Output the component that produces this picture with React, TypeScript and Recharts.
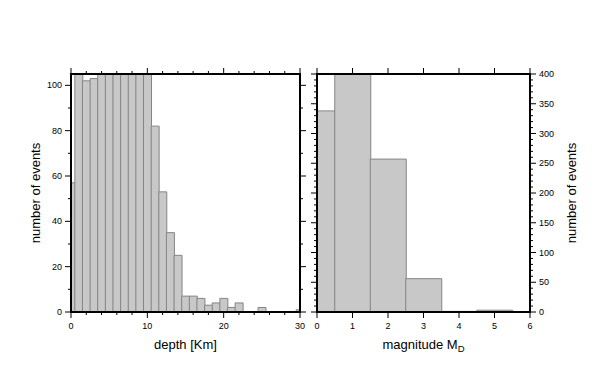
import { Bar, BarChart, XAxis, YAxis } from "recharts";

// depth histogram, 1 km bins centred on whole km
const depthBins = [
  0, 1, 2, 3, 4, 5, 6, 7, 8, 9, 10, 11, 12, 13, 14, 15, 16, 17, 18, 19, 20,
  21, 22, 23, 24, 25, 26, 27, 28, 29, 30,
];
const depthCounts = [
  57, 108, 102, 103, 112, 118, 122, 125, 120, 114, 106, 82, 53, 35, 25, 7, 7,
  6, 3, 4, 6, 2, 4, 0, 0, 2, 0, 0, 0, 0, 1,
];

// magnitude histogram, unit bins centred on whole magnitudes
const magnitudeBins = [0, 1, 2, 3, 4, 5, 6];
const magnitudeCounts = [338, 769, 257, 56, 1, 3, 0];

const depthTicks = [0, 2, 4, 6, 8, 10, 12, 14, 16, 18, 20, 22, 24, 26, 28, 30];
const depthCountTicks = [0, 10, 20, 30, 40, 50, 60, 70, 80, 90, 100];
const magnitudeTicks = [0, 1, 2, 3, 4, 5, 6];
const magnitudeCountTicks = [
  0, 10, 20, 30, 40, 50, 60, 70, 80, 90, 100, 110, 120, 130, 140, 150, 160,
  170, 180, 190, 200, 210, 220, 230, 240, 250, 260, 270, 280, 290, 300, 310,
  320, 330, 340, 350, 360, 370, 380, 390, 400,
];

const depthData = depthBins.map((bin, i) => ({ bin, count: depthCounts[i] }));
const magnitudeData = magnitudeBins.map((bin, i) => ({
  bin,
  count: magnitudeCounts[i],
}));

const FONT = "'Liberation Sans', Arial, Helvetica, sans-serif";
const frame = { stroke: "#000", strokeWidth: 2, strokeLinecap: "square" as const };

type Side = "left" | "right" | "top" | "bottom";

// draws tick marks (long for major, short for minor) and optional labels
function makeTick(side: Side, majorEvery: number, labels: boolean) {
  return function Tick(props: any) {
    const { x, y, payload } = props;
    const v = payload.value;
    const major = v % majorEvery === 0;
    const len = major ? 6 : 3;
    let line = null;
    let label = null;
    if (side === "left") {
      line = <line x1={x - len} x2={x} y1={y} y2={y} />;
      if (labels && major)
        label = (
          <text x={x - 9} y={y} dy="0.35em" textAnchor="end">
            {v}
          </text>
        );
    } else if (side === "right") {
      line = <line x1={x} x2={x + len} y1={y} y2={y} />;
      if (labels && major)
        label = (
          <text x={x + 9} y={y} dy="0.35em" textAnchor="start">
            {v}
          </text>
        );
    } else if (side === "top") {
      line = <line x1={x} x2={x} y1={y - len} y2={y} />;
    } else {
      line = <line x1={x} x2={x} y1={y} y2={y + len} />;
      if (labels && major)
        label = (
          <text x={x} y={y + 17} textAnchor="middle">
            {v}
          </text>
        );
    }
    return (
      <g stroke="#000" strokeWidth={1} fill="#000" fontSize={9} fontFamily={FONT}>
        {line}
        {label && <g stroke="none">{label}</g>}
      </g>
    );
  };
}

function SideTitle({ viewBox, title, shiftX }: any) {
  const cx = viewBox.x + shiftX;
  const cy = viewBox.y + viewBox.height / 2;
  return (
    <text
      x={cx}
      y={cy}
      transform={`rotate(-90 ${cx} ${cy})`}
      textAnchor="middle"
      dominantBaseline="central"
      fontSize={13}
      fontFamily={FONT}
      fill="#000"
    >
      {title}
    </text>
  );
}

function BottomTitle({ viewBox, title, sub }: any) {
  const cx = viewBox.x + viewBox.width / 2;
  return (
    <text
      x={cx}
      y={viewBox.y + 37}
      textAnchor="middle"
      fontSize={13}
      fontFamily={FONT}
      fill="#000"
    >
      {title}
      {sub && (
        <tspan dy={3} fontSize={9.5}>
          {sub}
        </tspan>
      )}
    </text>
  );
}

export default function App() {
  return (
    <div
      style={{
        position: "absolute",
        left: 0,
        top: 0,
        width: 602,
        height: 383,
        background: "#fff",
        overflow: "hidden",
      }}
    >
      <div style={{ position: "absolute", left: 0, top: 0 }}>
        <BarChart
          width={310}
          height={383}
          data={depthData}
          margin={{ top: 68, right: 0, bottom: 0, left: 25 }}
          barCategoryGap={0}
          barGap={0}
        >
          <XAxis
            xAxisId="b"
            dataKey="bin"
            type="number"
            domain={[0, 30]}
            ticks={depthTicks}
            allowDataOverflow
            height={71}
            tickSize={0}
            tickMargin={0}
            tickLine={false}
            axisLine={frame}
            tick={makeTick("bottom", 10, true)}
            interval={0}
            label={<BottomTitle title="depth [Km]" />}
          />
          <XAxis
            xAxisId="t"
            orientation="top"
            type="number"
            domain={[0, 30]}
            ticks={depthTicks}
            allowDataOverflow
            height={6}
            tickSize={0}
            tickMargin={0}
            tickLine={false}
            axisLine={frame}
            tick={makeTick("top", 10, false)}
            interval={0}
          />
          <YAxis
            yAxisId="l"
            type="number"
            domain={[0, 105]}
            ticks={depthCountTicks}
            allowDataOverflow
            width={46}
            tickSize={0}
            tickMargin={0}
            tickLine={false}
            axisLine={frame}
            tick={makeTick("left", 20, true)}
            interval={0}
            label={<SideTitle title="number of events" shiftX={10} />}
          />
          <YAxis
            yAxisId="r"
            orientation="right"
            type="number"
            domain={[0, 105]}
            ticks={depthCountTicks}
            allowDataOverflow
            width={10}
            tickSize={0}
            tickMargin={0}
            tickLine={false}
            axisLine={frame}
            tick={makeTick("right", 20, false)}
            interval={0}
          />
          <Bar
            xAxisId="b"
            yAxisId="l"
            dataKey="count"
            fill="#c8c8c8"
            stroke="#858585"
            strokeWidth={1}
            isAnimationActive={false}
          />
        </BarChart>
      </div>
      <div style={{ position: "absolute", left: 310, top: 0 }}>
        <BarChart
          width={292}
          height={383}
          data={magnitudeData}
          margin={{ top: 68, right: 0, bottom: 0, left: 0 }}
          barCategoryGap={0}
          barGap={0}
        >
          <XAxis
            xAxisId="b"
            dataKey="bin"
            type="number"
            domain={[0, 6]}
            ticks={magnitudeTicks}
            allowDataOverflow
            height={71}
            tickSize={0}
            tickMargin={0}
            tickLine={false}
            axisLine={frame}
            tick={makeTick("bottom", 1, true)}
            interval={0}
            label={<BottomTitle title="magnitude M" sub="D" />}
          />
          <XAxis
            xAxisId="t"
            orientation="top"
            type="number"
            domain={[0, 6]}
            ticks={magnitudeTicks}
            allowDataOverflow
            height={6}
            tickSize={0}
            tickMargin={0}
            tickLine={false}
            axisLine={frame}
            tick={makeTick("top", 1, false)}
            interval={0}
          />
          <YAxis
            yAxisId="l"
            type="number"
            domain={[0, 400]}
            ticks={magnitudeCountTicks}
            allowDataOverflow
            width={7}
            tickSize={0}
            tickMargin={0}
            tickLine={false}
            axisLine={frame}
            tick={makeTick("left", 50, false)}
            interval={0}
          />
          <YAxis
            yAxisId="r"
            orientation="right"
            type="number"
            domain={[0, 400]}
            ticks={magnitudeCountTicks}
            allowDataOverflow
            width={72}
            tickSize={0}
            tickMargin={0}
            tickLine={false}
            axisLine={frame}
            tick={makeTick("right", 50, true)}
            interval={0}
            label={<SideTitle title="number of events" shiftX={41} />}
          />
          <Bar
            xAxisId="b"
            yAxisId="l"
            dataKey="count"
            fill="#c8c8c8"
            stroke="#858585"
            strokeWidth={1}
            isAnimationActive={false}
          />
        </BarChart>
      </div>
    </div>
  );
}
